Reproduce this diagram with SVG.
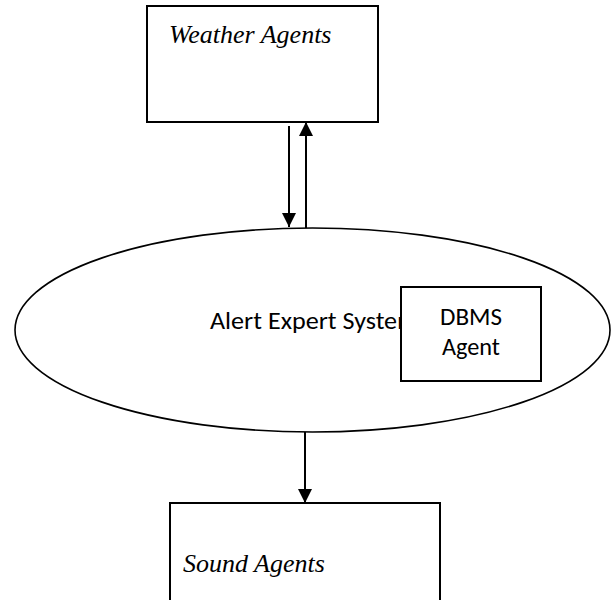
<svg xmlns="http://www.w3.org/2000/svg" width="611" height="600" viewBox="0 0 611 600">
<style>
.box{fill:#fff;stroke:#000;stroke-width:2}
.ell{fill:#fff;stroke:#000;stroke-width:1.6}
.serif{font-family:"Liberation Serif","Times New Roman",serif;font-style:italic;font-size:26px;fill:#000}
.sans{font-family:Carlito,Lato,"Liberation Sans",sans-serif;font-size:25px;fill:#000}
.conn{stroke:#000;stroke-width:2;fill:none;marker-end:url(#ah)}
</style>
<defs>
<marker id="ah" viewBox="0 0 14 14" refX="14" refY="7" markerWidth="14" markerHeight="14" markerUnits="userSpaceOnUse" orient="auto">
<path d="M0,0 L14,7 L0,14 Z" fill="#000"/>
</marker>
</defs>
<g id="weather">
<rect class="box" x="147" y="6" width="231" height="116"/>
<text class="serif" x="169" y="43">Weather Agents</text>
</g>
<g id="alert">
<ellipse class="ell" cx="312.5" cy="330" rx="297.5" ry="102"/>
<text class="sans" x="210" y="329" textLength="208" lengthAdjust="spacingAndGlyphs">Alert Expert System</text>
</g>
<g id="dbms">
<rect class="box" x="401" y="287" width="140" height="94"/>
<text class="sans" x="471" y="325" text-anchor="middle" textLength="62" lengthAdjust="spacingAndGlyphs">DBMS</text>
<text class="sans" x="471" y="355" text-anchor="middle" textLength="58" lengthAdjust="spacingAndGlyphs">Agent</text>
</g>
<g id="sound">
<rect class="box" x="170" y="503" width="270" height="110"/>
<text class="serif" x="183" y="572">Sound Agents</text>
</g>
<g id="connectors">
<line class="conn" x1="289" y1="126" x2="289" y2="227"/>
<line class="conn" x1="306" y1="228" x2="306" y2="122"/>
<line class="conn" x1="305" y1="432" x2="305" y2="503"/>
</g>
</svg>
